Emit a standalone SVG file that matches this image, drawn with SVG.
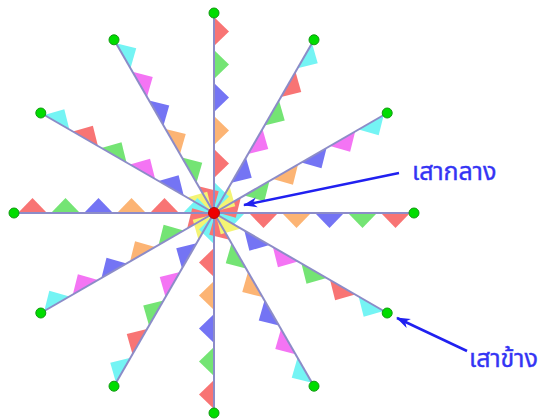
<svg xmlns="http://www.w3.org/2000/svg" xmlns:xlink="http://www.w3.org/1999/xlink" width="550" height="420" viewBox="0 0 550 420">
<style>
.r{fill:#f87474}.g{fill:#74e474}.b{fill:#7474f4}.o{fill:#fcb474}.m{fill:#f474f4}.c{fill:#74f4f4}.y{fill:#f4f474}
.pole{stroke:#8c8cc8;stroke-width:2}
.tip{fill:#00dd00;stroke:#119911;stroke-width:1}
.hub{fill:#ee0000;stroke:#aa1111;stroke-width:1}
.lbl{font-family:"Noto Sans Thai","DejaVu Sans","Liberation Sans",sans-serif;font-size:25px;fill:#3434f4;stroke:#3434f4;stroke-width:0.4}
.arr{stroke:#2020f0;stroke-width:2.5;fill:none}
</style>
<defs>
<marker id="ah" markerUnits="userSpaceOnUse" markerWidth="16" markerHeight="12" refX="13" refY="6" orient="auto">
<path d="M0,1 L14,6 L0,11 L4,6 z" fill="#2020f0"/>
</marker>
<g id="axis">
<polygon class="c" points="2,0 31,0 16.5,15"/>
<polygon class="r" points="35,0 64,0 49.5,15"/>
<polygon class="o" points="68,0 97,0 82.5,15"/>
<polygon class="b" points="101,0 130,0 115.5,15"/>
<polygon class="g" points="134,0 163,0 148.5,15"/>
<polygon class="r" points="167,0 196,0 181.5,15"/>
</g>
<g id="setA">
<polygon class="y" points="2,0 31,0 16.5,15"/>
<polygon class="b" points="35,0 64,0 49.5,15"/>
<polygon class="m" points="68,0 97,0 82.5,15"/>
<polygon class="g" points="101,0 130,0 115.5,15"/>
<polygon class="r" points="134,0 163,0 148.5,15"/>
<polygon class="c" points="167,0 196,0 181.5,15"/>
</g>
<g id="setB">
<polygon class="r" points="2,0 31,0 16.5,15"/>
<polygon class="g" points="35,0 64,0 49.5,15"/>
<polygon class="o" points="68,0 97,0 82.5,15"/>
<polygon class="b" points="101,0 130,0 115.5,15"/>
<polygon class="m" points="134,0 163,0 148.5,15"/>
<polygon class="c" points="167,0 196,0 181.5,15"/>
</g>
</defs>
<g id="flags">
<use xlink:href="#axis" transform="translate(214,213) rotate(0)"/>
<use xlink:href="#setB" transform="translate(214,213) rotate(-30)"/>
<use xlink:href="#setA" transform="translate(214,213) rotate(-60)"/>
<use xlink:href="#axis" transform="translate(214,213) rotate(-90)"/>
<use xlink:href="#setB" transform="translate(214,213) rotate(-120)"/>
<use xlink:href="#setA" transform="translate(214,213) rotate(-150)"/>
<use xlink:href="#axis" transform="translate(214,213) rotate(-180)"/>
<use xlink:href="#setB" transform="translate(214,213) rotate(-210)"/>
<use xlink:href="#setA" transform="translate(214,213) rotate(-240)"/>
<use xlink:href="#axis" transform="translate(214,213) rotate(-270)"/>
<use xlink:href="#setB" transform="translate(214,213) rotate(-300)"/>
<use xlink:href="#setA" transform="translate(214,213) rotate(-330)"/>
</g>
<g id="poles" class="pole">
<line x1="214" y1="213" x2="414" y2="213"/>
<line x1="214" y1="213" x2="387.2" y2="113"/>
<line x1="214" y1="213" x2="314" y2="39.8"/>
<line x1="214" y1="213" x2="214" y2="13"/>
<line x1="214" y1="213" x2="114" y2="39.8"/>
<line x1="214" y1="213" x2="40.8" y2="113"/>
<line x1="214" y1="213" x2="14" y2="213"/>
<line x1="214" y1="213" x2="40.8" y2="313"/>
<line x1="214" y1="213" x2="114" y2="386.2"/>
<line x1="214" y1="213" x2="214" y2="413"/>
<line x1="214" y1="213" x2="314" y2="386.2"/>
<line x1="214" y1="213" x2="387.2" y2="313"/>
</g>
<g id="side-poles">
<circle class="tip" cx="414" cy="213" r="5"/>
<circle class="tip" cx="387.2" cy="113" r="5"/>
<circle class="tip" cx="314" cy="39.8" r="5"/>
<circle class="tip" cx="214" cy="13" r="5"/>
<circle class="tip" cx="114" cy="39.8" r="5"/>
<circle class="tip" cx="40.8" cy="113" r="5"/>
<circle class="tip" cx="14" cy="213" r="5"/>
<circle class="tip" cx="40.8" cy="313" r="5"/>
<circle class="tip" cx="114" cy="386.2" r="5"/>
<circle class="tip" cx="214" cy="413" r="5"/>
<circle class="tip" cx="314" cy="386.2" r="5"/>
<circle class="tip" cx="387.2" cy="313" r="5"/>
</g>
<g id="center-pole">
<circle class="hub" cx="214" cy="213" r="5.5"/>
</g>
<g id="connectors">
<line class="arr" x1="399" y1="173" x2="244" y2="205" marker-end="url(#ah)"/>
<line class="arr" x1="467" y1="351" x2="397" y2="318" marker-end="url(#ah)"/>
</g>
<g id="label-center">
<text class="lbl" x="412" y="180">เสากลาง</text>
</g>
<g id="label-side">
<text class="lbl" x="469" y="367">เสาข้าง</text>
</g>
</svg>
